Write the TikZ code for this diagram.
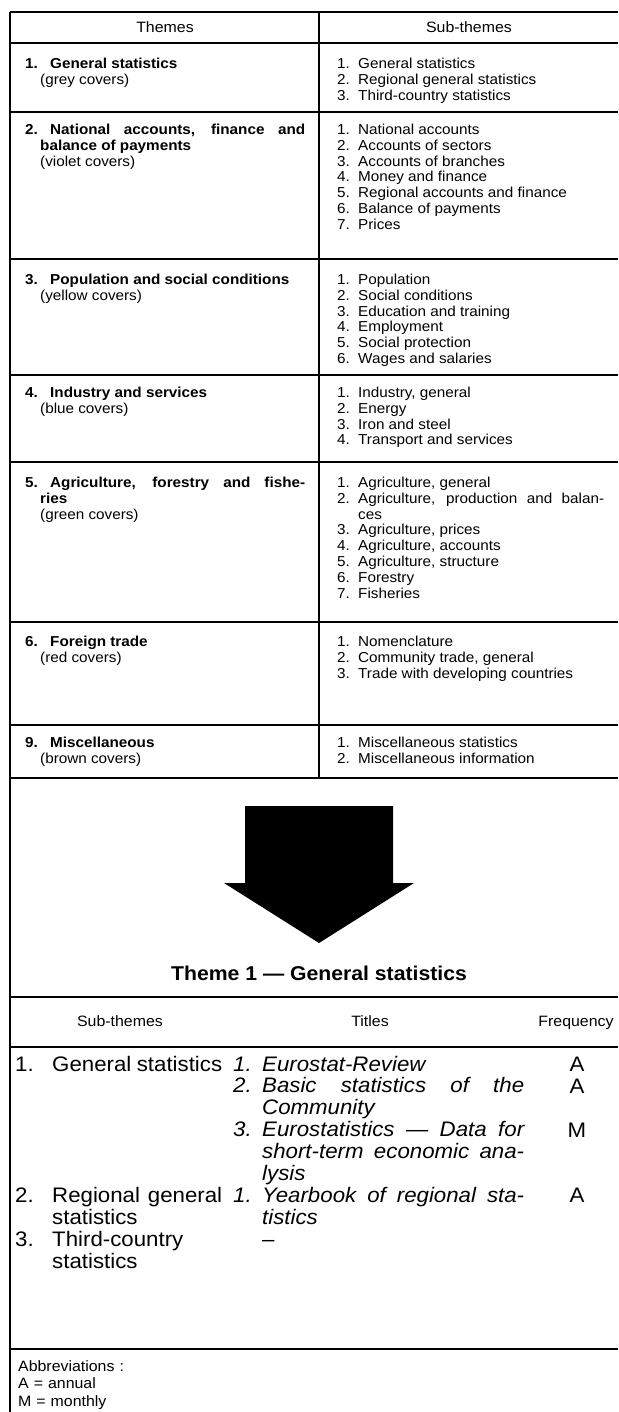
\documentclass[tikz,border=0pt]{standalone}
\usepackage{fontspec}
\setmainfont{Liberation Sans}[FakeStretch=1.06]
\usetikzlibrary{positioning}
\tolerance=10000 \hbadness=10000 \hyphenpenalty=10000
\newcommand{\tabfont}{\fontsize{14.4}{15.8}\selectfont}
\newcommand{\listfont}{\fontsize{21}{21.9}\selectfont}
\newcommand{\notefont}{\fontsize{15}{17.5}\selectfont}
\newcommand{\thnum}[1]{\hspace*{-15pt}\makebox[25pt][l]{#1}}
\newcommand{\subnum}[1]{\hspace*{-21pt}\makebox[21pt][l]{#1}}
\newcommand{\lownum}[1]{\hspace*{-37pt}\makebox[37pt][l]{#1}}
\newcommand{\titnum}[1]{\hspace*{-29pt}\makebox[29pt][l]{#1}}

\begin{document}
\begin{tikzpicture}[x=1pt, y=-1pt]
  \tikzstyle{tabrule} = [draw, line width=1.5pt]
  \tikzstyle{headcell} = [anchor=base, inner sep=0pt, font=\fontsize{15}{17}\selectfont]
  \tikzstyle{themecell} = [anchor=base west, inner sep=0pt,
    text width=265pt, align=justify, font=\tabfont]
  \tikzstyle{subcell} = [anchor=base west, inner sep=0pt,
    text width=246pt, align=justify, font=\tabfont]
  \tikzstyle{lowsub} = [anchor=base west, inner sep=0pt,
    text width=170pt, align=justify, font=\listfont]
  \tikzstyle{pubtitle} = [lowsub, text width=262pt, font=\listfont\itshape]
  \tikzstyle{freqcell} = [anchor=base, inner sep=0pt, font=\listfont]

  \useasboundingbox (0,0) rectangle (618,1412);

  % Draw lines
  \foreach \y in {12,43,112,259,375,462,622,725,778,997,1047,1349}
    \path [tabrule] (10,\y) -- (618,\y);
  \path [tabrule] (10,12) -- (10,1412);
  \path [tabrule] (319,12) -- (319,778);

  % Place nodes
  \node [headcell] (hthemes) at (165,32.5) {Themes};
  \node [headcell] (hsub) at (469,32.5) {Sub-themes};

  \node [themecell] (th1) at (40,68.5) {\thnum{\bfseries 1.}\textbf{General statistics}\\(grey covers)};
  \node [themecell] (th2) at (40,134.5) {\thnum{\bfseries 2.}\textbf{National accounts, finance and\linebreak balance of payments}\\(violet covers)};
  \node [themecell] (th3) at (40,284.5) {\thnum{\bfseries 3.}\textbf{Population and social conditions}\\(yellow covers)};
  \node [themecell] (th4) at (40,397.5) {\thnum{\bfseries 4.}\textbf{Industry and services}\\(blue covers)};
  \node [themecell] (th5) at (40,487.5) {\thnum{\bfseries 5.}\textbf{Agriculture, forestry and fishe-\linebreak ries}\\(green covers)};
  \node [themecell] (th6) at (40,646.5) {\thnum{\bfseries 6.}\textbf{Foreign trade}\\(red covers)};
  \node [themecell] (th9) at (40,747.5) {\thnum{\bfseries 9.}\textbf{Miscellaneous}\\(brown covers)};

  \node [subcell] (sub1) at (358,68.5) {\subnum{1.}General statistics\par
    \subnum{2.}Regional general statistics\par
    \subnum{3.}Third-country statistics};
  \node [subcell] (sub2) at (358,134.5) {\subnum{1.}National accounts\par
    \subnum{2.}Accounts of sectors\par
    \subnum{3.}Accounts of branches\par
    \subnum{4.}Money and finance\par
    \subnum{5.}Regional accounts and finance\par
    \subnum{6.}Balance of payments\par
    \subnum{7.}Prices};
  \node [subcell] (sub3) at (358,284.5) {\subnum{1.}Population\par
    \subnum{2.}Social conditions\par
    \subnum{3.}Education and training\par
    \subnum{4.}Employment\par
    \subnum{5.}Social protection\par
    \subnum{6.}Wages and salaries};
  \node [subcell] (sub4) at (358,397.5) {\subnum{1.}Industry, general\par
    \subnum{2.}Energy\par
    \subnum{3.}Iron and steel\par
    \subnum{4.}Transport and services};
  \node [subcell] (sub5) at (358,487.5) {\subnum{1.}Agriculture, general\par
    \subnum{2.}Agriculture, production and balan-\linebreak ces\par
    \subnum{3.}Agriculture, prices\par
    \subnum{4.}Agriculture, accounts\par
    \subnum{5.}Agriculture, structure\par
    \subnum{6.}Forestry\par
    \subnum{7.}Fisheries};
  \node [subcell] (sub6) at (358,646.5) {\subnum{1.}Nomenclature\par
    \subnum{2.}Community trade, general\par
    \subnum{3.}Trade with developing countries};
  \node [subcell] (sub9) at (358,747.5) {\subnum{1.}Miscellaneous statistics\par
    \subnum{2.}Miscellaneous information};

  % Big arrow
  \fill (245,806) -- (393,806) -- (393,883) -- (414,883) -- (319,943)
    -- (224,883) -- (245,883) -- cycle;

  \node [headcell, font=\fontsize{20}{22}\selectfont\bfseries] (theme1) at (319,980)
    {Theme 1 --- General statistics};

  \node [headcell] (lsub) at (120,1026) {Sub-themes};
  \node [headcell] (ltitles) at (370,1026) {Titles};
  \node [headcell] (lfreq) at (576,1026) {Frequency};

  \node [lowsub] (gen) at (52,1071) {\lownum{1.}General statistics};
  \node [lowsub] (reg) at (52,1202.5) {\lownum{2.}Regional general\linebreak statistics\par
    \lownum{3.}Third-country\\statistics};

  \node [pubtitle] (pubs) at (262,1071) {\titnum{1.}Eurostat-Review\par
    \titnum{2.}Basic statistics of the\linebreak Community\par
    \titnum{3.}Eurostatistics --- Data for\linebreak short-term economic ana-\linebreak lysis\par
    \titnum{1.}Yearbook of regional sta-\linebreak tistics\par
    \upshape --};

  \node [freqcell] (fa) at (577,1071) {A};
  \node [freqcell] (fb) at (577,1093) {A};
  \node [freqcell] (fc) at (577,1137) {M};
  \node [freqcell] (fd) at (577,1202.5) {A};

  \node [anchor=base west, inner sep=0pt, text width=200pt, font=\notefont] (abbr) at (18,1371)
    {Abbreviations :\\A = annual\\M = monthly};
\end{tikzpicture}
\end{document}
